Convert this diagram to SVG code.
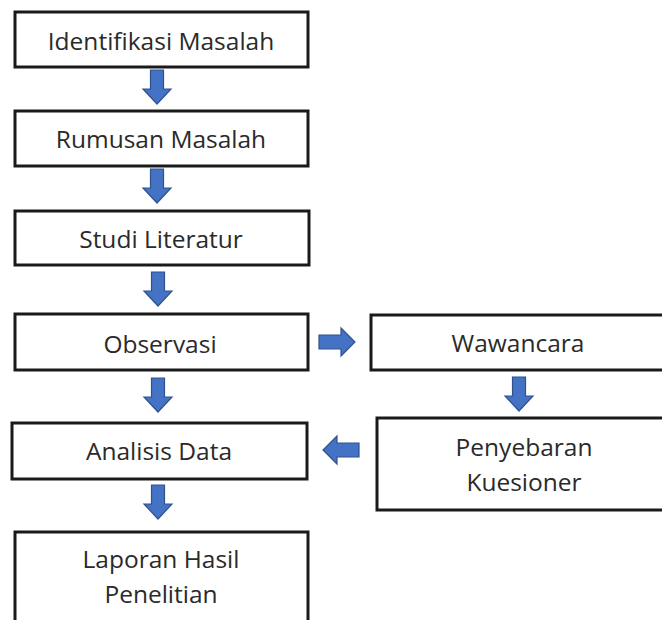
<svg xmlns="http://www.w3.org/2000/svg" width="662" height="620" viewBox="0 0 662 620">
  <style>
    .box { fill: #ffffff; stroke: #1a1a1a; stroke-width: 3; }
    .lbl { font-family: "Open Sans", "Noto Sans", "Liberation Sans", sans-serif; font-size: 24.5px; fill: #2a2a2a; text-anchor: middle; }
    .arr { fill: #4472C4; stroke: #2F528F; stroke-width: 1.2; stroke-linejoin: miter; }
  </style>
  <defs>
    <path id="down" d="M-6.5,0 H6.5 V19 H14 L0,34 L-14,19 H-6.5 Z"/>
    <path id="right" d="M0,-7 H22 V-14 L36,0 L22,14 V7 H0 Z"/>
  </defs>
  <rect width="662" height="620" fill="#ffffff"/>

  <g id="connectors">
    <use href="#down" class="arr" transform="translate(157,70)"/>
    <use href="#down" class="arr" transform="translate(157,169)"/>
    <use href="#down" class="arr" transform="translate(158,272)"/>
    <use href="#down" class="arr" transform="translate(158,378)"/>
    <use href="#down" class="arr" transform="translate(519,377)"/>
    <use href="#down" class="arr" transform="translate(158,485)"/>
    <use href="#right" class="arr" transform="translate(319,342)"/>
    <use href="#right" class="arr" transform="translate(359,450) scale(-1,1)"/>
  </g>

  <g id="identifikasi">
    <rect class="box" x="15" y="12" width="293" height="55"/>
    <text class="lbl" x="161" y="50">Identifikasi Masalah</text>
  </g>
  <g id="rumusan">
    <rect class="box" x="15" y="111" width="293" height="55"/>
    <text class="lbl" x="161" y="148">Rumusan Masalah</text>
  </g>
  <g id="studi">
    <rect class="box" x="15" y="211" width="294" height="54"/>
    <text class="lbl" x="161" y="248">Studi Literatur</text>
  </g>
  <g id="observasi">
    <rect class="box" x="15" y="314" width="293" height="56"/>
    <text class="lbl" x="160" y="353">Observasi</text>
  </g>
  <g id="wawancara">
    <rect class="box" x="371" y="315" width="296" height="55"/>
    <text class="lbl" x="518" y="352">Wawancara</text>
  </g>
  <g id="analisis">
    <rect class="box" x="12" y="423" width="295" height="56"/>
    <text class="lbl" x="159" y="460">Analisis Data</text>
  </g>
  <g id="penyebaran">
    <rect class="box" x="377" y="418" width="292" height="92"/>
    <text class="lbl" x="524" y="456">Penyebaran</text>
    <text class="lbl" x="524" y="491">Kuesioner</text>
  </g>
  <g id="laporan">
    <rect class="box" x="15" y="532" width="293" height="95"/>
    <text class="lbl" x="161" y="568">Laporan Hasil</text>
    <text class="lbl" x="161" y="603">Penelitian</text>
  </g>
</svg>
